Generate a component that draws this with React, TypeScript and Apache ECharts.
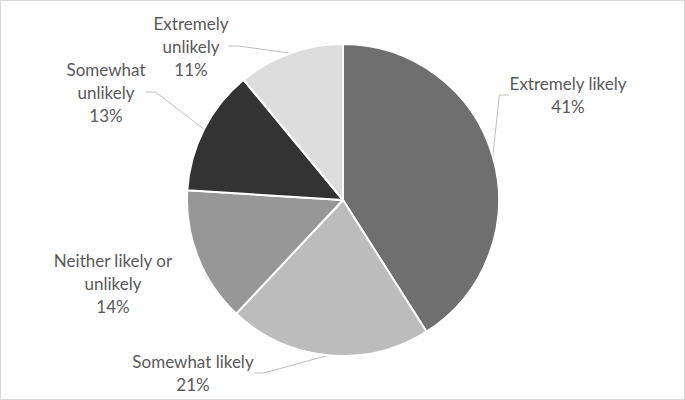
import React, { useEffect, useRef } from "react";
import * as echarts from "echarts";

const categories = [
  "Extremely likely",
  "Somewhat likely",
  "Neither likely or unlikely",
  "Somewhat unlikely",
  "Extremely unlikely",
];
const values = [41, 21, 14, 13, 11];
const labelTexts = [
  "Extremely likely",
  "Somewhat likely",
  "Neither likely or\nunlikely",
  "Somewhat\nunlikely",
  "Extremely\nunlikely",
];
const colors = ["#6f6f6f", "#bcbcbc", "#979797", "#333333", "#dddddd"];
const labelCenters = [
  [567, 94],
  [192, 372],
  [112, 282],
  [105, 91],
  [190, 45],
];
const showLine = [true, true, false, true, true];

export default function App() {
  const ref = useRef<HTMLDivElement>(null);
  useEffect(() => {
    if (!ref.current) return;
    const chart = echarts.init(ref.current, null, { renderer: "svg" });
    chart.setOption({
      animation: false,
      backgroundColor: "#ffffff",
      series: [
        {
          type: "pie",
          center: [342, 199],
          radius: 156,
          startAngle: 90,
          clockwise: true,
          data: categories.map((name, i) => ({
            name,
            value: values[i],
            itemStyle: { color: colors[i] },
            labelLine: { show: showLine[i] },
          })),
          itemStyle: { borderColor: "#ffffff", borderWidth: 2 },
          label: {
            show: true,
            position: "outside",
            formatter: (p: any) => `${labelTexts[p.dataIndex]}\n${p.percent}%`,
            fontFamily: "Lato",
            fontSize: 17,
            lineHeight: 23,
            color: "#595959",
            align: "center",
          },
          labelLine: {
            show: true,
            length: 10,
            length2: 10,
            lineStyle: { color: "#bfbfbf", width: 1 },
          },
          labelLayout: (params: any) => {
            const c = labelCenters[params.dataIndex];
            return {
              x: c[0],
              y: c[1],
              align: "center",
              verticalAlign: "middle",
            };
          },
        },
      ],
    });
    return () => chart.dispose();
  }, []);
  return (
    <div
      ref={ref}
      style={{
        position: "fixed",
        left: 0,
        top: 0,
        width: 685,
        height: 400,
        boxSizing: "border-box",
        border: "1px solid #d9d9d9",
      }}
    />
  );
}
